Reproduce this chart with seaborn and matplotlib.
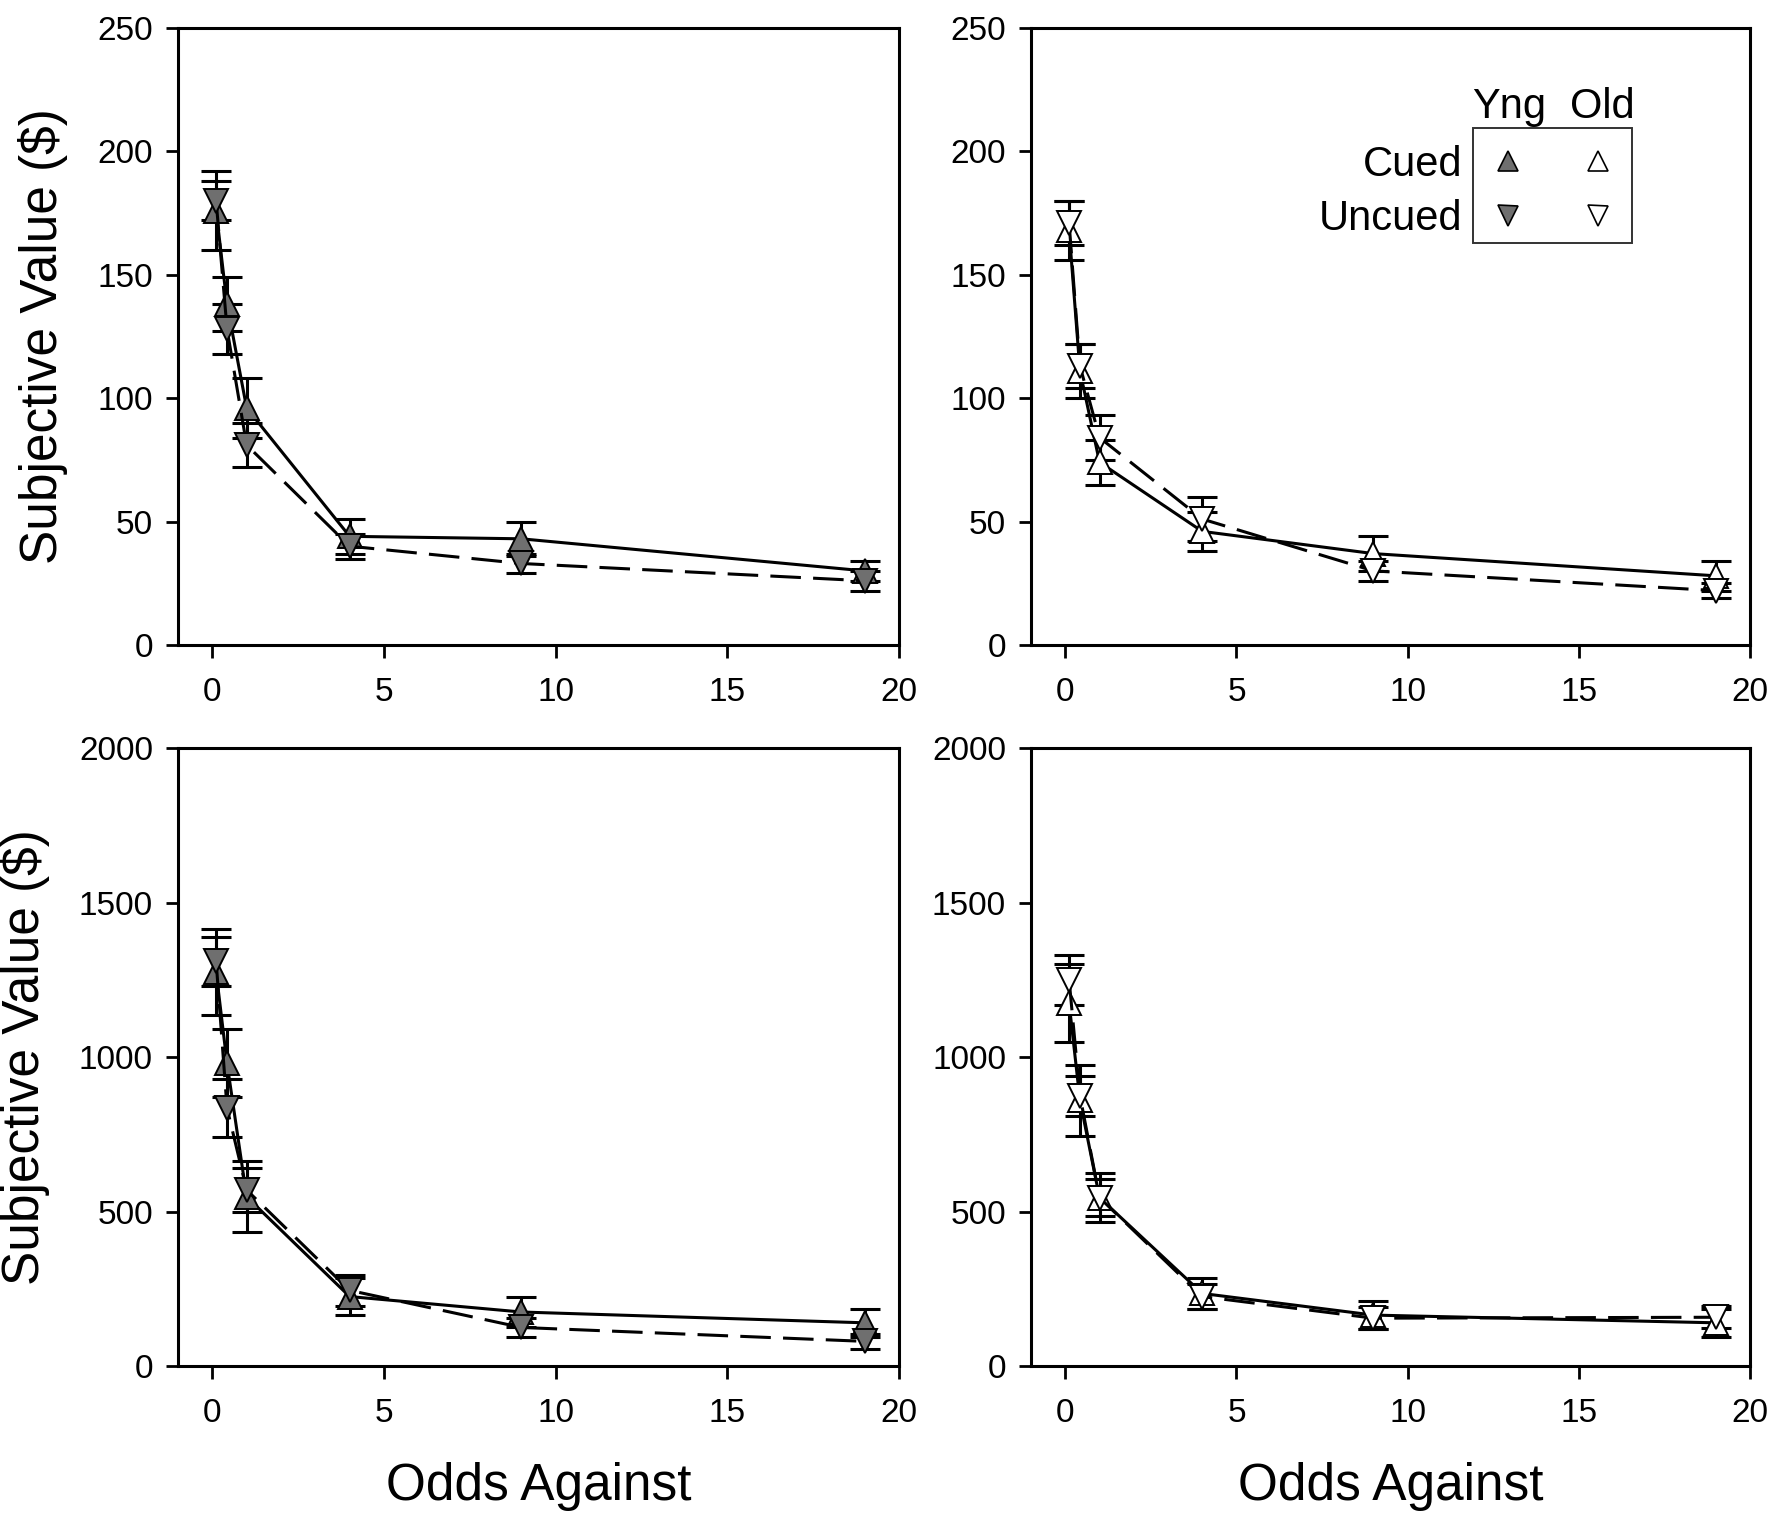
import numpy as np
import pandas as pd
import matplotlib
matplotlib.use('Agg')
import matplotlib.pyplot as plt
import seaborn as sns
from matplotlib.lines import Line2D
from matplotlib.markers import MarkerStyle
from matplotlib.transforms import Affine2D

sns.set_style('white')
plt.rcParams['font.family'] = ['Liberation Sans', 'DejaVu Sans']
plt.rcParams['text.color'] = 'black'
plt.rcParams['axes.labelcolor'] = 'black'
plt.rcParams['xtick.color'] = 'black'
plt.rcParams['ytick.color'] = 'black'

# odds against winning (probabilities .9 .7 .5 .2 .1 .05)
odds = [0.111, 0.4286, 1, 4, 9, 19]

# small amounts, young
yng_small_cued = [176, 138, 96, 44, 43, 30]
yng_small_cued_se = [16, 11, 12, 7, 7, 4]
yng_small_uncued = [180, 128, 81, 40, 33, 26]
yng_small_uncued_se = [8, 10, 9, 5, 4, 4]

# small amounts, old
old_small_cued = [168, 111, 74, 46, 37, 28]
old_small_cued_se = [12, 11, 9, 8, 7, 6]
old_small_uncued = [171, 113, 84, 51, 30, 22]
old_small_uncued_se = [9, 9, 9, 9, 4, 3]

# large amounts, young
yng_large_cued = [1276, 980, 548, 225, 175, 140]
yng_large_cued_se = [140, 110, 115, 60, 50, 45]
yng_large_uncued = [1310, 835, 570, 245, 125, 80]
yng_large_uncued_se = [80, 95, 70, 50, 30, 25]

# large amounts, old
old_large_cued = [1175, 860, 545, 235, 165, 140]
old_large_cued_se = [125, 115, 80, 50, 45, 45]
old_large_uncued = [1250, 875, 545, 225, 155, 158]
old_large_uncued_se = [80, 65, 60, 40, 35, 35]

GRAY = '#6f6f6f'
DASH = (0, (10, 4))

panels = [
    (yng_small_cued, yng_small_cued_se, yng_small_uncued, yng_small_uncued_se, GRAY, 250, 50),
    (old_small_cued, old_small_cued_se, old_small_uncued, old_small_uncued_se, 'white', 250, 50),
    (yng_large_cued, yng_large_cued_se, yng_large_uncued, yng_large_uncued_se, GRAY, 2000, 500),
    (old_large_cued, old_large_cued_se, old_large_uncued, old_large_uncued_se, 'white', 2000, 500),
]

fig = plt.figure(figsize=(17.78, 15.15), dpi=100)
positions = [
    [0.1001, 0.5743, 0.4055, 0.4073],
    [0.5799, 0.5743, 0.4044, 0.4073],
    [0.1001, 0.0983, 0.4055, 0.4079],
    [0.5799, 0.0983, 0.4044, 0.4079],
]

axes = []
for i, (cued, cued_se, uncued, uncued_se, face, ymax, ystep) in enumerate(panels):
    ax = fig.add_axes(positions[i])
    axes.append(ax)

    for vals, se, mk, ls in [(cued, cued_se, '^', '-'), (uncued, uncued_se, 'v', DASH)]:
        df = pd.DataFrame({'odds': odds, 'value': vals})
        ax.errorbar(df['odds'], df['value'], yerr=se, fmt='none', ecolor='black',
                    elinewidth=2.2, capsize=11, capthick=2.2, zorder=2)
        sns.lineplot(data=df, x='odds', y='value', ax=ax, color='black', lw=2.2,
                     linestyle=ls, marker=mk, markersize=17, markerfacecolor=face,
                     markeredgecolor='black', markeredgewidth=1.4, errorbar=None,
                     zorder=3)

    ax.set_xlim(-1, 20)
    ax.set_ylim(0, ymax)
    ax.set_xticks([0, 5, 10, 15, 20])
    ax.set_yticks(np.arange(0, ymax + 1, ystep))
    ax.tick_params(axis='both', which='major', direction='out', length=9, width=2,
                   labelsize=24, left=True, bottom=True, top=False, right=False)
    ax.tick_params(axis='x', pad=14)
    ax.tick_params(axis='y', pad=9)
    for sp in ax.spines.values():
        sp.set_color('black')
        sp.set_linewidth(2.2)
    ax.set_xlabel('')
    ax.set_ylabel('')
    if i % 2 == 0:
        ax.set_ylabel('Subjective Value ($)', fontsize=37, labelpad=21)
    if i >= 2:
        ax.set_xlabel('Odds Against', fontsize=37, labelpad=24)

# custom 2x2 legend in the top-right panel (markers nudged down inside the rows)
ax = axes[1]
shift = Affine2D().translate(0, -0.38)
up = MarkerStyle('^', transform=shift)
down = MarkerStyle('v', transform=shift)
handles = [
    Line2D([], [], ls='none', marker=up, ms=15, mfc=GRAY, mec='black', mew=1.2),
    Line2D([], [], ls='none', marker=down, ms=15, mfc=GRAY, mec='black', mew=1.2),
    Line2D([], [], ls='none', marker=up, ms=15, mfc='white', mec='black', mew=1.2),
    Line2D([], [], ls='none', marker=down, ms=15, mfc='white', mec='black', mew=1.2),
]
leg = ax.legend(handles, ['', '', '', ''], ncol=2, loc='upper left',
                bbox_to_anchor=(0.615, 0.838), frameon=True, fancybox=False,
                edgecolor='black', borderpad=1.12, handlelength=2.73, handleheight=2.88,
                handletextpad=0.0, columnspacing=3.74, labelspacing=1.85,
                fontsize=10, borderaxespad=0)
leg.get_frame().set_linewidth(1.4)
ax.text(0.665, 0.872, 'Yng', transform=ax.transAxes, ha='center', va='center', fontsize=30)
ax.text(0.795, 0.872, 'Old', transform=ax.transAxes, ha='center', va='center', fontsize=30)
ax.text(0.600, 0.778, 'Cued', transform=ax.transAxes, ha='right', va='center', fontsize=30)
ax.text(0.600, 0.691, 'Uncued', transform=ax.transAxes, ha='right', va='center', fontsize=30)

fig.savefig('out.png', dpi=100)
